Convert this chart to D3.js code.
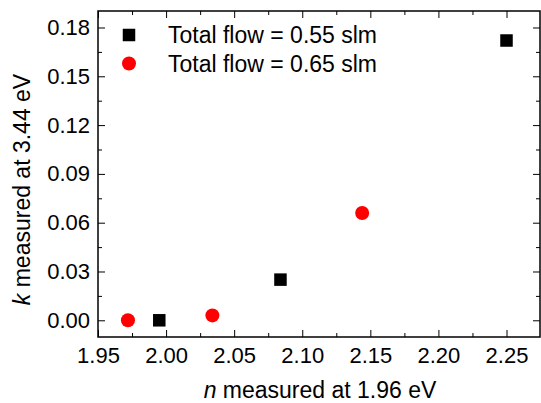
<!DOCTYPE html>
<html>
<head>
<meta charset="utf-8">
<script src="https://cdn.jsdelivr.net/npm/d3@7"></script>
<style>
  body { margin: 0; background: #fff; }
  text { font-family: 'Liberation Sans', Arial, sans-serif; fill: #000; }
</style>
</head>
<body>
<div id="chart"></div>
<script>
// Data
const seriesNames = ['Total flow = 0.55 slm', 'Total flow = 0.65 slm'];
const flow055N = [1.995, 2.084, 2.25];
const flow055K = [0.0, 0.025, 0.172];
const flow065N = [1.972, 2.034, 2.144];
const flow065K = [0.0, 0.003, 0.066];
const xTicks = [1.95, 2.0, 2.05, 2.1, 2.15, 2.2, 2.25];
const yTicks = [0, 0.03, 0.06, 0.09, 0.12, 0.15, 0.18];

// Dimensions
const WIDTH = 541;
const HEIGHT = 403;
const PLOT = { LEFT: 98, RIGHT: 540, TOP: 11, BOTTOM: 337 };

const svg = d3
  .select('#chart')
  .append('svg')
  .attr('width', WIDTH)
  .attr('height', HEIGHT);

// Scales
const x = d3.scaleLinear().domain([1.95, 2.2746]).range([PLOT.LEFT, PLOT.RIGHT]);
const y = d3.scaleLinear().domain([-0.01027, 0.19014]).range([PLOT.BOTTOM, PLOT.TOP]);

const xMinor = xTicks.map((d) => d + 0.025).filter((d) => d < x.domain()[1]);
const yMinor = yTicks.map((d) => d + 0.015).filter((d) => d < y.domain()[1]);

const MAJOR = 7;
const MINOR = 4;

function styleAxis(g) {
  g.select('.domain').remove();
  g.selectAll('line').attr('stroke', '#000').attr('stroke-width', 1);
  g.selectAll('text').style('font-size', '22px').attr('fill', '#000');
}

// Bottom axis
svg
  .append('g')
  .attr('transform', `translate(0, ${PLOT.BOTTOM})`)
  .call(d3.axisBottom(x).tickValues(xTicks).tickSize(-MAJOR).tickPadding(10).tickFormat(d3.format('.2f')))
  .call(styleAxis);
svg
  .append('g')
  .attr('transform', `translate(0, ${PLOT.BOTTOM})`)
  .call(d3.axisBottom(x).tickValues(xMinor).tickSize(-MINOR).tickFormat(''))
  .call(styleAxis);

// Top axis (mirror)
svg
  .append('g')
  .attr('transform', `translate(0, ${PLOT.TOP})`)
  .call(d3.axisTop(x).tickValues(xTicks).tickSize(-MAJOR).tickFormat(''))
  .call(styleAxis);
svg
  .append('g')
  .attr('transform', `translate(0, ${PLOT.TOP})`)
  .call(d3.axisTop(x).tickValues(xMinor).tickSize(-MINOR).tickFormat(''))
  .call(styleAxis);

// Left axis
svg
  .append('g')
  .attr('transform', `translate(${PLOT.LEFT}, 0)`)
  .call(d3.axisLeft(y).tickValues(yTicks).tickSize(-MAJOR).tickPadding(8).tickFormat(d3.format('.2f')))
  .call(styleAxis);
svg
  .append('g')
  .attr('transform', `translate(${PLOT.LEFT}, 0)`)
  .call(d3.axisLeft(y).tickValues(yMinor).tickSize(-MINOR).tickFormat(''))
  .call(styleAxis);

// Right axis (mirror)
svg
  .append('g')
  .attr('transform', `translate(${PLOT.RIGHT}, 0)`)
  .call(d3.axisRight(y).tickValues(yTicks).tickSize(-MAJOR).tickFormat(''))
  .call(styleAxis);
svg
  .append('g')
  .attr('transform', `translate(${PLOT.RIGHT}, 0)`)
  .call(d3.axisRight(y).tickValues(yMinor).tickSize(-MINOR).tickFormat(''))
  .call(styleAxis);

// Frame
svg
  .append('rect')
  .attr('x', PLOT.LEFT)
  .attr('y', PLOT.TOP)
  .attr('width', PLOT.RIGHT - PLOT.LEFT)
  .attr('height', PLOT.BOTTOM - PLOT.TOP)
  .attr('fill', 'none')
  .attr('stroke', '#000')
  .attr('stroke-width', 1.5);

// Axis titles
const xTitle = svg
  .append('text')
  .attr('x', 320)
  .attr('y', 398)
  .attr('text-anchor', 'middle')
  .style('font-size', '23px');
xTitle.append('tspan').style('font-style', 'italic').text('n');
xTitle.append('tspan').text(' measured at 1.96 eV');

const yTitle = svg
  .append('text')
  .attr('transform', 'translate(30, 189.5) rotate(-90)')
  .attr('text-anchor', 'middle')
  .style('font-size', '23px');
yTitle.append('tspan').style('font-style', 'italic').text('k');
yTitle.append('tspan').text(' measured at 3.44 eV');

// Points
const SQ = 12.5;
const R = 7;
const squares = flow055N.map((n, i) => ({ n: n, k: flow055K[i] }));
const circles = flow065N.map((n, i) => ({ n: n, k: flow065K[i] }));

svg
  .selectAll('rect.sq')
  .data(squares)
  .enter()
  .append('rect')
  .attr('class', 'sq')
  .attr('x', (d) => x(d.n) - SQ / 2)
  .attr('y', (d) => y(d.k) - SQ / 2)
  .attr('width', SQ)
  .attr('height', SQ)
  .attr('fill', '#000');

svg
  .selectAll('circle.pt')
  .data(circles)
  .enter()
  .append('circle')
  .attr('class', 'pt')
  .attr('cx', (d) => x(d.n))
  .attr('cy', (d) => y(d.k))
  .attr('r', R)
  .attr('fill', '#ff0000');

// Legend
const legend = svg.append('g').attr('transform', 'translate(129, 35)');
legend
  .append('rect')
  .attr('x', -SQ / 2)
  .attr('y', -SQ / 2)
  .attr('width', SQ)
  .attr('height', SQ)
  .attr('fill', '#000');
legend.append('circle').attr('cx', 0).attr('cy', 28.5).attr('r', R).attr('fill', '#ff0000');
legend
  .selectAll('text')
  .data(seriesNames)
  .enter()
  .append('text')
  .attr('x', 39)
  .attr('y', (d, i) => 7.7 + i * 29)
  .style('font-size', '23px')
  .text((d) => d);
</script>
</body>
</html>
